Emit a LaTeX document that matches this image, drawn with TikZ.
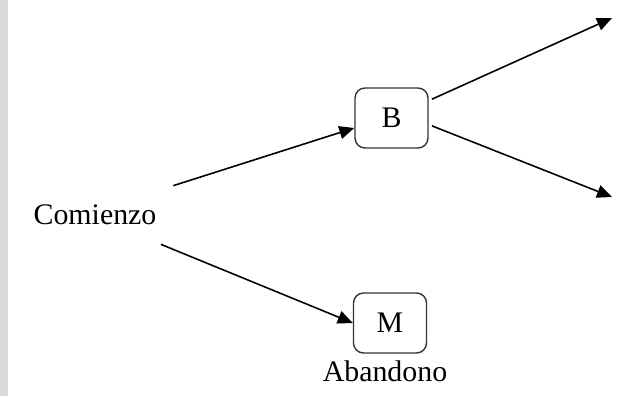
\documentclass[tikz,border=0pt]{standalone}
\usepackage{fontspec}
\setmainfont{Liberation Serif}
\usetikzlibrary{arrows.meta,positioning}

\tikzset{
  txt/.style={font=\fontsize{17}{20}\selectfont},
  box/.style={txt, draw=black!80, line width=0.8pt, rounded corners=0.2cm,
              minimum width=1.46cm, minimum height=1.2cm, inner sep=0pt},
  arr/.style={-{Triangle[length=0.3cm,width=0.26cm]}, line width=0.9pt}
}

\begin{document}
\begin{tikzpicture}[x=0.02cm, y=-0.02cm]
  % Frame and the grey strip on the left
  \useasboundingbox (0,0) rectangle (622,396);
  \fill[black!14] (0,0) rectangle (8,396);

  % Start and the two outcomes
  \node[txt, minimum width=3.12cm, minimum height=1.16cm, inner sep=0pt] (start) at (95,215) {Comienzo};
  \node[box] (b) at (391.5,118) {B};
  \node[box] (m) at (390,323) {M};
  \node[txt, below=0.02cm of m, xshift=-0.1cm] (abandono) {Abandono};

  % Free ends on the right
  \coordinate (up) at (612,18);
  \coordinate (down) at (612,197);

  % Arrows
  \draw[arr] (start.north east) -- (b.195);
  \draw[arr] (start.-24) -- (m.west);
  \draw[arr, shorten <=2pt] (b.25) -- (up);
  \draw[arr, shorten <=2pt] (b.-10) -- (down);
\end{tikzpicture}
\end{document}
